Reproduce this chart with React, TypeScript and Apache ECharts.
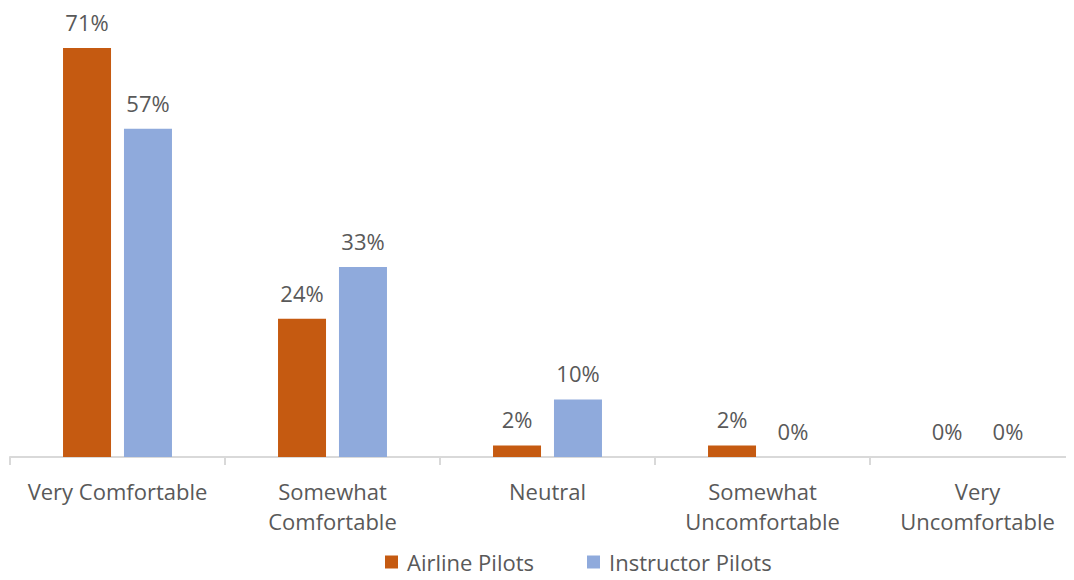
import React, { useEffect, useRef } from "react";
import * as echarts from "echarts";

const categories = [
  "Very Comfortable",
  "Somewhat\nComfortable",
  "Neutral",
  "Somewhat\nUncomfortable",
  "Very\nUncomfortable",
];
const airlinePilots = [71, 24, 2, 2, 0];
const instructorPilots = [57, 33, 10, 0, 0];
const seriesNames = ["Airline Pilots", "Instructor Pilots"];

const FONT = "'Open Sans', 'Noto Sans', sans-serif";
const TXT = "#595959";
const FS = 22;

export default function App() {
  const ref = useRef<HTMLDivElement>(null);
  useEffect(() => {
    if (!ref.current) return;
    const chart = echarts.init(ref.current, null, { renderer: "svg" });
    const label = {
      show: true,
      position: "top",
      distance: 15,
      formatter: "{c}%",
      color: TXT,
      fontSize: FS,
      fontFamily: FONT,
    };
    chart.setOption({
      animation: false,
      textStyle: { fontFamily: FONT },
      legend: {
        bottom: 2,
        left: 380,
        itemWidth: 13,
        itemHeight: 13,
        itemGap: 53,
        icon: "rect",
        textStyle: { color: TXT, fontSize: FS, fontFamily: FONT, padding: [0, 0, 0, 4] },
        data: seriesNames,
      },
      grid: { left: 10, top: 25, height: 432, width: 1075 },
      xAxis: {
        type: "category",
        data: categories,
        axisLine: { lineStyle: { color: "#d9d9d9", width: 2 } },
        axisTick: { show: true, length: 8, lineStyle: { color: "#d9d9d9", width: 2 } },
        axisLabel: {
          color: TXT,
          fontSize: FS,
          fontFamily: FONT,
          margin: 19,
          lineHeight: 30,
          interval: 0,
        },
      },
      yAxis: {
        type: "value",
        min: 0,
        max: 75,
        show: false,
        splitLine: { show: false },
      },
      series: [
        {
          name: seriesNames[0],
          type: "bar",
          data: airlinePilots,
          barWidth: 48,
          barGap: "27%",
          itemStyle: { color: "#C55A11" },
          label,
        },
        {
          name: seriesNames[1],
          type: "bar",
          data: instructorPilots,
          barWidth: 48,
          itemStyle: { color: "#8FAADC" },
          label,
        },
      ],
    });
    return () => chart.dispose();
  }, []);
  return (
    <div style={{ width: 1074, height: 580, margin: -8, overflow: "hidden" }}>
      <div ref={ref} style={{ width: 1100, height: 580 }} />
    </div>
  );
}
